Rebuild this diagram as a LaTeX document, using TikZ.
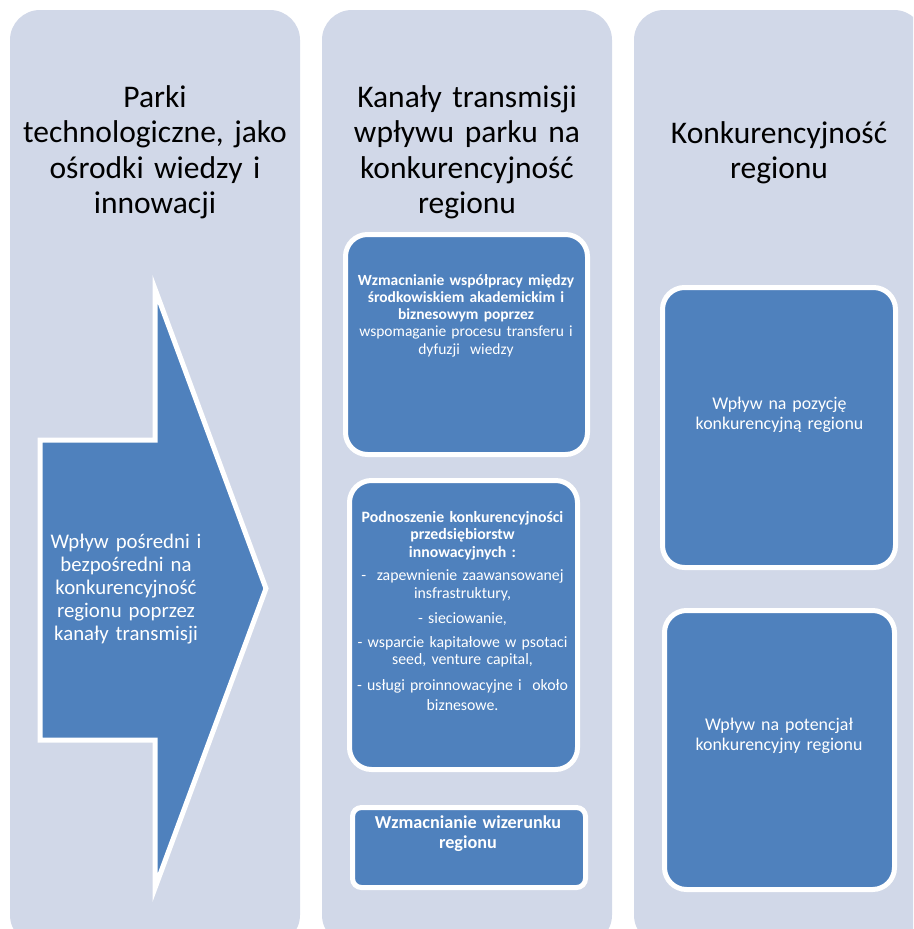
\documentclass[tikz,border=0pt]{standalone}
\usepackage{fontspec}
\setmainfont{Carlito}
\definecolor{colbg}{RGB}{209,216,232}
\definecolor{boxblue}{RGB}{79,129,189}
\tikzset{
  column/.style={fill=colbg, draw=none, rounded corners=30pt},
  bluebox/.style={rectangle, fill=boxblue, draw=white, line width=5pt, inner sep=0pt},
  header/.style={anchor=base, text width=310pt, align=center, inner sep=0pt, text=black,
     font=\fontsize{31.5}{35.5}\selectfont},
  wtext/.style={anchor=base, align=center, inner sep=0pt, text=white},
}
\begin{document}
\begin{tikzpicture}[x=1pt,y=-1pt]
\useasboundingbox (0,0) rectangle (913,929);
\clip (0,0) rectangle (913,929);
\fill[white] (0,0) rectangle (913,929);
% columns
\fill[column] (10,10) rectangle (300,945);
\fill[column] (322,10) rectangle (612,945);
\fill[column] (634,10) rectangle (924,945);
% headers
\node[header] (h1) at (155,107) {Parki\\technologiczne, jako\\ośrodki wiedzy i\\innowacji};
\node[header] (h2) at (467,107) {Kanały transmisji\\wpływu parku na\\konkurencyjność\\regionu};
\node[header] (h3) at (779,143) {Konkurencyjność\\regionu};
% arrow
\filldraw[fill=boxblue, draw=white, line width=5pt, line join=miter]
  (40,440) -- (155,440) -- (155,289) -- (266,588.5) -- (155,888) -- (155,740) -- (40,740) -- cycle;
\node[wtext, text width=240pt, font=\fontsize{20.8}{23.2}\selectfont] (at) at (126,548)
  {Wpływ pośredni i\\bezpośredni na\\konkurencyjność\\regionu poprzez\\kanały transmisji};
% middle column boxes
\node[bluebox, rounded corners=22pt, minimum width=242pt, minimum height=220pt] (b1) at (466.5,344.5) {};
\node[bluebox, rounded corners=22pt, minimum width=228pt, minimum height=289pt] (b2) at (463.5,625) {};
\node[bluebox, rounded corners=9pt, minimum width=233pt, minimum height=80pt] (b3) at (469,847.5) {};
\node[wtext, text width=280pt, font=\fontsize{15.5}{17.3}\selectfont] (t1) at (466,285)
  {\textbf{Wzmacnianie współpracy między}\\\textbf{środkowiskiem akademickim i}\\\textbf{biznesowym poprzez}\\wspomaganie procesu transferu i\\dyfuzji\ \ wiedzy};
\node[wtext, text width=280pt, font=\fontsize{15.8}{17.5}\selectfont] (t2) at (462.5,522)
  {\textbf{Podnoszenie konkurencyjności}\\\textbf{przedsiębiorstw}\\\textbf{innowacyjnych :}\\[5.5pt]
   -\ \ zapewnienie zaawansowanej\\[0.5pt]insfrastruktury,\\[7.5pt]- sieciowanie,\\[6.5pt]
   - wsparcie kapitałowe w psotaci\\[-0.5pt]seed, venture capital,\\[8.5pt]
   - usługi proinnowacyjne i\ \ około\\[2.5pt]biznesowe.};
\node[wtext, text width=260pt, font=\bfseries\fontsize{18.2}{20}\selectfont] (t3) at (468,828)
  {Wzmacnianie wizerunku\\regionu};
% right column boxes
\node[bluebox, rounded corners=22pt, minimum width=233pt, minimum height=280pt] (cA) at (779,427.5) {};
\node[bluebox, rounded corners=22pt, minimum width=230pt, minimum height=279pt] (cB) at (779.5,750) {};
\node[wtext, text width=260pt, font=\fontsize{17.9}{20}\selectfont] (tA) at (779.5,409)
  {Wpływ na pozycję\\konkurencyjną regionu};
\node[wtext, text width=260pt, font=\fontsize{17.9}{20}\selectfont] (tB) at (779,730)
  {Wpływ na potencjał\\konkurencyjny regionu};
\end{tikzpicture}
\end{document}
